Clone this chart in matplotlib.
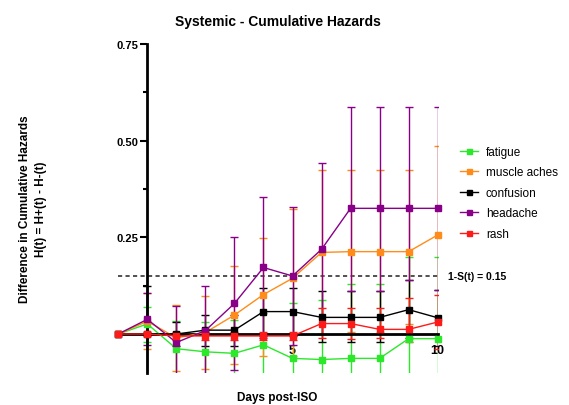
import numpy as np
import matplotlib
matplotlib.use("Agg")
import matplotlib.pyplot as plt
from matplotlib.ticker import FixedLocator

plt.rcParams['font.family'] = ['Liberation Sans', 'DejaVu Sans']

# Days relative to ISO
days = [-1, 0, 1, 2, 3, 4, 5, 6, 7, 8, 9, 10]

series_names = ["fatigue", "muscle aches", "confusion", "headache", "rash"]
series_colors = ["#2BE82B", "#FF8C1A", "#000000", "#880088", "#FF1A1A"]

# Difference in cumulative hazards with lower / upper confidence limits
fatigue = [0, 0.026, -0.038, -0.046, -0.050, -0.028, -0.063, -0.066, -0.063, -0.063, -0.012, -0.012]
fatigue_lo = [0, -0.020, -0.110, -0.120, -0.130, -0.110, -0.200, -0.220, -0.250, -0.250, -0.220, -0.220]
fatigue_hi = [0, 0.069, 0.033, 0.030, 0.035, 0.055, 0.079, 0.088, 0.130, 0.130, 0.200, 0.200]

muscle = [0, 0.033, -0.010, 0.004, 0.049, 0.102, 0.144, 0.211, 0.213, 0.213, 0.213, 0.256]
muscle_lo = [0, -0.039, -0.096, -0.090, -0.078, -0.058, -0.058, 0.000, 0.005, 0.005, 0.025, 0.046]
muscle_hi = [0, 0.105, 0.076, 0.098, 0.176, 0.247, 0.323, 0.423, 0.423, 0.423, 0.423, 0.485]

confusion = [0, 0, 0, 0.010, 0.010, 0.058, 0.058, 0.043, 0.043, 0.043, 0.063, 0.042]
confusion_lo = [0, -0.125, -0.030, -0.030, -0.030, -0.005, -0.005, -0.020, -0.020, -0.020, -0.010, -0.030]
confusion_hi = [0, 0.125, 0.030, 0.050, 0.050, 0.120, 0.120, 0.111, 0.111, 0.111, 0.139, 0.115]

headache = [0, 0.038, -0.022, 0.009, 0.079, 0.172, 0.150, 0.219, 0.325, 0.325, 0.325, 0.325]
headache_lo = [0, -0.029, -0.116, -0.106, -0.093, -0.010, -0.029, 0.000, 0.110, 0.110, 0.140, 0.115]
headache_hi = [0, 0.105, 0.072, 0.124, 0.251, 0.354, 0.329, 0.442, 0.586, 0.586, 0.586, 0.586]

rash = [0, 0, -0.005, -0.005, -0.005, -0.005, -0.005, 0.027, 0.027, 0.012, 0.012, 0.031]
rash_lo = [0, -0.005, -0.015, -0.015, -0.015, -0.015, -0.015, -0.010, -0.012, -0.010, -0.021, -0.040]
rash_hi = [0, 0.005, 0.005, 0.005, 0.005, 0.005, 0.005, 0.068, 0.068, 0.068, 0.092, 0.102]

threshold = 0.15
threshold_label = "1-S(t) = 0.15"

x_ticks = [-1, 0, 5, 10]
x_ticklabels = ["", "", "5", "10"]
y_ticks = [0.25, 0.50, 0.75]
y_ticklabels = ["0.25", "0.50", "0.75"]
y_minor = [0.125, 0.375, 0.625]

values = [fatigue, muscle, confusion, headache, rash]
lows = [fatigue_lo, muscle_lo, confusion_lo, headache_lo, rash_lo]
highs = [fatigue_hi, muscle_hi, confusion_hi, headache_hi, rash_hi]

fig = plt.figure(figsize=(5.69, 4.06), dpi=100)
ax = fig.add_axes([0.2079, 0.0796, 0.5613, 0.8096])

handles = []
for name, color, v, lo, hi in zip(series_names, series_colors, values, lows, highs):
    v = np.asarray(v)
    lo = np.asarray(lo)
    hi = np.asarray(hi)
    ax.errorbar(days, v, yerr=[v - lo, hi - v], fmt="none", ecolor=color,
                elinewidth=1.0, capsize=3, capthick=1.0, zorder=2)
    line, = ax.plot(days, v, "-s", color=color, lw=1.0, ms=4,
                    label=name, zorder=3, clip_on=False)
    handles.append(line)

ax.hlines(threshold, days[0], days[-1], colors="#333333", linestyles=(0, (2.5, 2)),
          lw=1.2, zorder=1)
ax.text(10.35, threshold, threshold_label, fontsize=7.5, fontweight="bold",
        va="center", ha="left")

ax.set_xlim(-1, 10)
ax.set_ylim(-0.1, 0.75)

for s in ["top", "right"]:
    ax.spines[s].set_visible(False)
ax.spines["left"].set_position(("data", 0))
ax.spines["bottom"].set_position(("data", 0))
ax.spines["left"].set_linewidth(2.0)
ax.spines["bottom"].set_linewidth(2.0)
ax.spines["left"].set_zorder(2.5)
ax.spines["bottom"].set_zorder(2.5)

ax.set_xticks(x_ticks)
ax.set_xticklabels(x_ticklabels, fontsize=9, fontweight="bold")
ax.set_yticks(y_ticks)
ax.set_yticklabels(y_ticklabels, fontsize=8, fontweight="bold")
ax.yaxis.set_minor_locator(FixedLocator(y_minor))
ax.tick_params(axis="y", which="major", length=5, width=1.5, pad=1.5)
ax.tick_params(axis="y", which="minor", length=3, width=1.5)
ax.tick_params(axis="x", which="major", length=3, width=1.5, pad=4.5)

ax.set_title("Systemic - Cumulative Hazards", fontsize=10, fontweight="bold", pad=14)
fig.text(277 / 569, 1 - 398 / 406, "Days post-ISO", fontsize=8.5, fontweight="bold",
         ha="center", va="center")
fig.text(33 / 569, 1 - 209 / 406, "Difference in Cumulative Hazards\nH(t) = H+(t) - H-(t)",
         fontsize=8.5, fontweight="bold", rotation=90, ha="center", va="center",
         multialignment="center", linespacing=1.45)

ax.legend(handles=handles, loc="upper left", bbox_to_anchor=(460 / 569, 1 - 147 / 406),
          bbox_transform=fig.transFigure, frameon=False, fontsize=8.5,
          handlelength=1.5, handletextpad=0.7, labelspacing=0.72,
          borderpad=0, borderaxespad=0, markerscale=0.9)

fig.savefig("out.png", dpi=100)
